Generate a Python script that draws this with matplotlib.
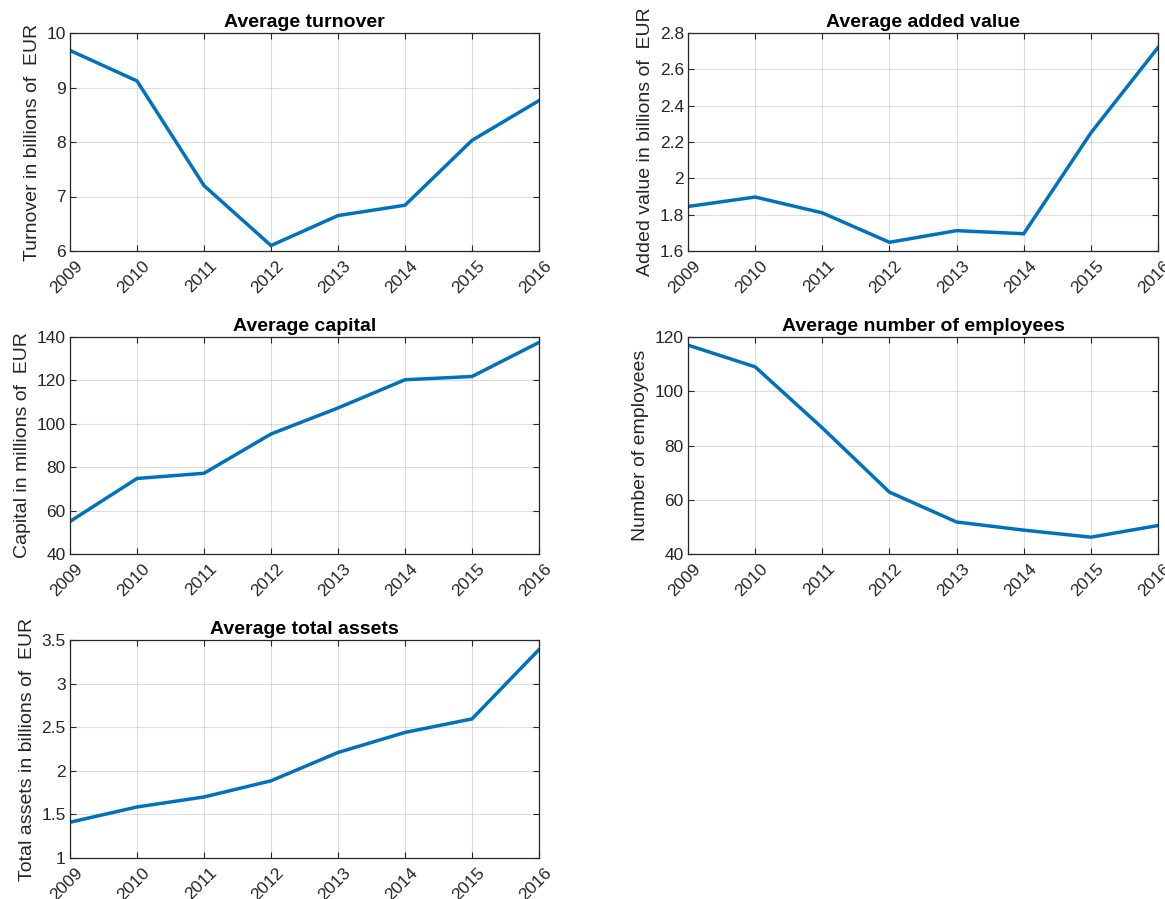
import matplotlib
matplotlib.use("Agg")
import matplotlib.pyplot as plt
import matplotlib.transforms as mtrans

years = [2009, 2010, 2011, 2012, 2013, 2014, 2015, 2016]
year_labels = [str(y) for y in years]

turnover = [9.68, 9.12, 7.20, 6.10, 6.65, 6.84, 8.03, 8.76]
added_value = [1.845, 1.897, 1.81, 1.648, 1.712, 1.695, 2.25, 2.72]
capital = [55.0, 74.8, 77.2, 95.3, 107.3, 120.3, 121.8, 137.5]
employees = [117.0, 109.0, 86.5, 62.8, 51.8, 48.8, 46.2, 50.5]
total_assets = [1.41, 1.585, 1.70, 1.885, 2.21, 2.44, 2.595, 3.39]

panels = [
    ("Average turnover", "Turnover in billions of  EUR", turnover, (6, 10), [6, 7, 8, 9, 10], ["6", "7", "8", "9", "10"]),
    ("Average added value", "Added value in billions of  EUR", added_value, (1.6, 2.8),
     [1.6, 1.8, 2.0, 2.2, 2.4, 2.6, 2.8], ["1.6", "1.8", "2", "2.2", "2.4", "2.6", "2.8"]),
    ("Average capital", "Capital in millions of  EUR", capital, (40, 140),
     [40, 60, 80, 100, 120, 140], ["40", "60", "80", "100", "120", "140"]),
    ("Average number of employees", "Number of employees", employees, (40, 120),
     [40, 60, 80, 100, 120], ["40", "60", "80", "100", "120"]),
    ("Average total assets", "Total assets in billions of  EUR", total_assets, (1, 3.5),
     [1, 1.5, 2, 2.5, 3, 3.5], ["1", "1.5", "2", "2.5", "3", "3.5"]),
]

W, H = 1165, 899
fig = plt.figure(figsize=(W / 100, H / 100), dpi=100)
plt.rcParams['font.family'] = ['Liberation Sans', 'DejaVu Sans']

cols = [(70, 469), (688, 470)]
rows = [(33, 251), (337, 554), (640, 858)]

edge = (0.15, 0.15, 0.15)
for i, (title, ylabel, vals, ylim, yt, ytl) in enumerate(panels):
    r, c = divmod(i, 2)
    x0, w = cols[c]
    top, bot = rows[r]
    ax = fig.add_axes([x0 / W, 1 - bot / H, w / W, (bot - top) / H])
    ax.plot(years, vals, color="#0072BD", lw=2.5, solid_joinstyle="miter")
    ax.set_xlim(2009, 2016)
    ax.set_ylim(*ylim)
    ax.set_xticks(years)
    ax.set_xticklabels(year_labels, rotation=45, ha="right", va="top",
                       rotation_mode="anchor")
    ax.set_yticks(yt)
    ax.set_yticklabels(ytl)
    ax.grid(True, color=(0.15, 0.15, 0.15), alpha=0.15, lw=0.8)
    ax.set_axisbelow(True)
    ax.tick_params(direction="in", length=4, width=0.8, colors=edge,
                   labelsize=12.5, top=True, right=True, pad=3)
    for lab in ax.get_xticklabels():
        lab.set_transform(lab.get_transform() + mtrans.ScaledTranslation(0.05, -0.03, fig.dpi_scale_trans))
    for s in ax.spines.values():
        s.set_color(edge)
        s.set_linewidth(0.9)
    ax.set_title(title, fontsize=14, fontweight="bold", pad=4)
    ax.set_ylabel(ylabel, fontsize=14, color=edge, labelpad=4)

fig.savefig("out.png", dpi=100)
